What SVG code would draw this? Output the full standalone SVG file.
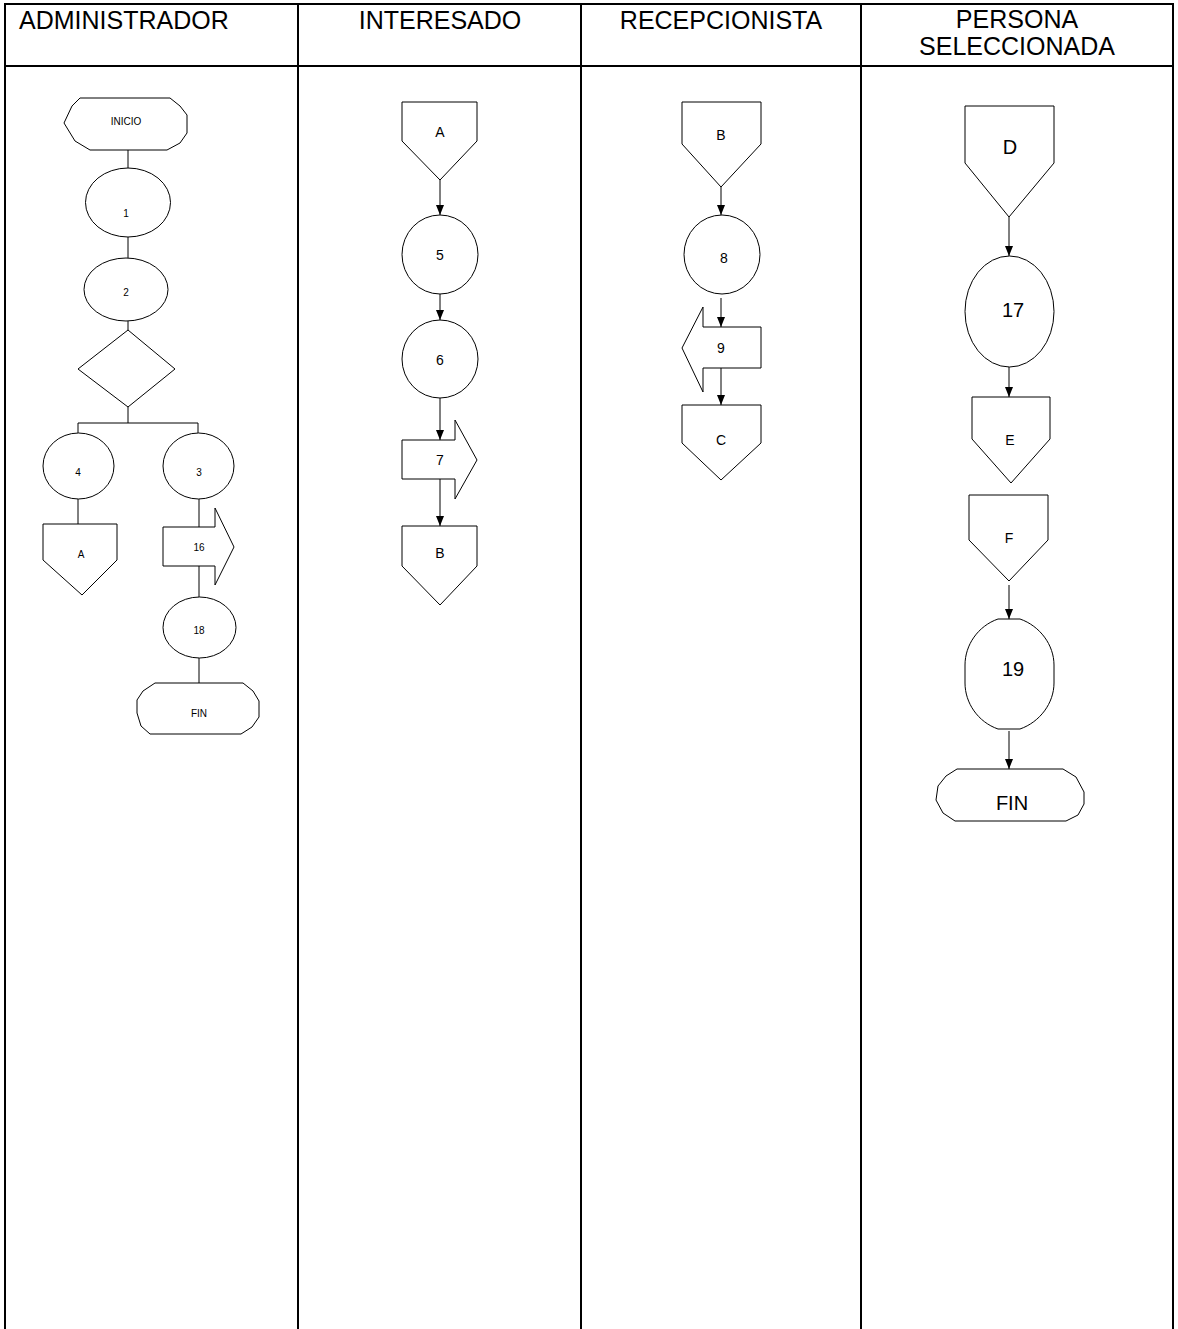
<svg xmlns="http://www.w3.org/2000/svg" width="1178" height="1329" viewBox="0 0 1178 1329">
<style>
.tbl{stroke:#000;stroke-width:2;fill:none}
.sh{fill:#fff;stroke:#000;stroke-width:1}
.ln{stroke:#000;stroke-width:1;fill:none}
.hd{font-family:"Liberation Sans",Arial,sans-serif;font-size:25px;fill:#000}
.t10{font-family:"Liberation Sans",Arial,sans-serif;font-size:10px;fill:#000;text-anchor:middle}
.t14{font-family:"Liberation Sans",Arial,sans-serif;font-size:14px;fill:#000;text-anchor:middle}
.t20{font-family:"Liberation Sans",Arial,sans-serif;font-size:20px;fill:#000;text-anchor:middle}
</style>
<defs>
<marker id="ah" markerWidth="10" markerHeight="8" refX="10" refY="4" orient="auto" markerUnits="userSpaceOnUse">
<path d="M0,0 L10,4 L0,8 Z" fill="#000"/>
</marker>
</defs>
<rect width="1178" height="1329" fill="#fff"/>
<g id="table">
<line class="tbl" x1="4" y1="4" x2="1174" y2="4"/>
<line class="tbl" x1="5" y1="66" x2="1173" y2="66"/>
<line class="tbl" x1="5" y1="4" x2="5" y2="1329"/>
<line class="tbl" x1="298" y1="4" x2="298" y2="1329"/>
<line class="tbl" x1="581" y1="4" x2="581" y2="1329"/>
<line class="tbl" x1="861" y1="4" x2="861" y2="1329"/>
<line class="tbl" x1="1173" y1="4" x2="1173" y2="1329"/>
<text class="hd" x="19" y="29">ADMINISTRADOR</text>
<text class="hd" x="440" y="29" text-anchor="middle">INTERESADO</text>
<text class="hd" x="721" y="29" text-anchor="middle">RECEPCIONISTA</text>
<text class="hd" x="1017" y="28" text-anchor="middle">PERSONA</text>
<text class="hd" x="1017" y="55" text-anchor="middle">SELECCIONADA</text>
</g>
<g id="connectors">
<line class="ln" x1="128" y1="150" x2="128" y2="168"/>
<line class="ln" x1="128" y1="237" x2="128" y2="258"/>
<line class="ln" x1="128" y1="321" x2="128" y2="330"/>
<line class="ln" x1="128" y1="407" x2="128" y2="423"/>
<polyline class="ln" points="78,433 78,423 198,423 198,433"/>
<line class="ln" x1="78" y1="499" x2="78" y2="524"/>
<line class="ln" x1="199" y1="499" x2="199" y2="597"/>
<line class="ln" x1="199" y1="658" x2="199" y2="683"/>
<line class="ln" x1="440" y1="180" x2="440" y2="215" marker-end="url(#ah)"/>
<line class="ln" x1="440" y1="294" x2="440" y2="320" marker-end="url(#ah)"/>
<line class="ln" x1="440" y1="398" x2="440" y2="440" marker-end="url(#ah)"/>
<line class="ln" x1="440" y1="479" x2="440" y2="526" marker-end="url(#ah)"/>
<line class="ln" x1="721" y1="187" x2="721" y2="215" marker-end="url(#ah)"/>
<line class="ln" x1="721" y1="298" x2="721" y2="327" marker-end="url(#ah)"/>
<line class="ln" x1="721" y1="368" x2="721" y2="405" marker-end="url(#ah)"/>
<line class="ln" x1="1009" y1="217" x2="1009" y2="256" marker-end="url(#ah)"/>
<line class="ln" x1="1009" y1="363" x2="1009" y2="397" marker-end="url(#ah)"/>
<line class="ln" x1="1009" y1="585" x2="1009" y2="619" marker-end="url(#ah)"/>
<line class="ln" x1="1009" y1="731" x2="1009" y2="769" marker-end="url(#ah)"/>
</g>
<g id="n-inicio">
<polygon class="sh" points="80,98 170,98 180,106 187,115 187,133 180,143 167,150 90,150 75,141 64,123 72,106"/>
<text class="t10" x="126" y="124.5">INICIO</text>
</g>
<g id="n-1">
<ellipse class="sh" cx="128" cy="202.5" rx="42.5" ry="34.5"/>
<text class="t10" x="126" y="216.5">1</text>
</g>
<g id="n-2">
<ellipse class="sh" cx="126" cy="289.5" rx="42" ry="31.5"/>
<text class="t10" x="126" y="295.5">2</text>
</g>
<g id="n-decision">
<polygon class="sh" points="128,330 175,369 128,407 78,369"/>
</g>
<g id="n-4">
<ellipse class="sh" cx="78.5" cy="466" rx="35.5" ry="33"/>
<text class="t10" x="78" y="475.5">4</text>
</g>
<g id="n-3">
<ellipse class="sh" cx="198.5" cy="466" rx="35.5" ry="33"/>
<text class="t10" x="199" y="475.5">3</text>
</g>
<g id="n-A1">
<polygon class="sh" points="43,524 117,524 117,560 82,595 43,560"/>
<text class="t10" x="81" y="557.5">A</text>
</g>
<g id="n-16">
<polygon class="sh" points="163,527 215,527 215,508 234,547 215,585 215,566 163,566"/>
<text class="t10" x="199" y="550.5">16</text>
</g>
<g id="n-18">
<ellipse class="sh" cx="199.5" cy="627.5" rx="36.5" ry="30.5"/>
<text class="t10" x="199" y="633.5">18</text>
</g>
<g id="n-fin1">
<polygon class="sh" points="155,683 243,683 253,691 259,701 259,717 252,727 241,734 150,734 141,726 137,713 137,700 143,691"/>
<text class="t10" x="199" y="716.5">FIN</text>
</g>
<g id="n-A2">
<polygon class="sh" points="402,102 477,102 477,141 440,180 402,141"/>
<text class="t14" x="440" y="137">A</text>
</g>
<g id="n-5">
<ellipse class="sh" cx="440" cy="254.5" rx="38" ry="39.5"/>
<text class="t14" x="440" y="260">5</text>
</g>
<g id="n-6">
<ellipse class="sh" cx="440" cy="359" rx="38" ry="39"/>
<text class="t14" x="440" y="365">6</text>
</g>
<g id="n-7">
<polygon class="sh" points="402,440 455,440 455,420 477,460 455,499 455,479 402,479"/>
<text class="t14" x="440" y="465">7</text>
</g>
<g id="n-B1">
<polygon class="sh" points="402,526 477,526 477,566 440,605 402,566"/>
<text class="t14" x="440" y="558">B</text>
</g>
<g id="n-B2">
<polygon class="sh" points="682,102 761,102 761,144 721,187 682,144"/>
<text class="t14" x="721" y="140">B</text>
</g>
<g id="n-8">
<ellipse class="sh" cx="722" cy="254.5" rx="38" ry="39.5"/>
<text class="t14" x="724" y="263">8</text>
</g>
<g id="n-9">
<polygon class="sh" points="761,327 703,327 703,307 682,348 703,392 703,368 761,368"/>
<text class="t14" x="721" y="353">9</text>
</g>
<g id="n-C">
<polygon class="sh" points="682,405 761,405 761,443 721,480 682,443"/>
<text class="t14" x="721" y="445">C</text>
</g>
<g id="n-D">
<polygon class="sh" points="965,106 1054,106 1054,163 1009,217 965,163"/>
<text class="t20" x="1010" y="154">D</text>
</g>
<g id="n-17">
<ellipse class="sh" cx="1009.5" cy="311.5" rx="44.5" ry="55.5"/>
<text class="t20" x="1013" y="317">17</text>
</g>
<g id="n-E">
<polygon class="sh" points="972,397 1050,397 1050,439 1011,483 972,439"/>
<text class="t14" x="1010" y="445">E</text>
</g>
<g id="n-F">
<polygon class="sh" points="969,495 1048,495 1048,540 1009,581 969,540"/>
<text class="t14" x="1009" y="543">F</text>
</g>
<g id="n-19">
<path class="sh" d="M998,619 H1020 C1040,626 1054,645 1054,665 V683 C1054,703 1040,722 1020,729 H998 C978,722 965,703 965,683 V665 C965,645 978,626 998,619 Z"/>
<text class="t20" x="1013" y="676">19</text>
</g>
<g id="n-fin2">
<polygon class="sh" points="957,769 1063,769 1076,777 1084,792 1084,804 1078,815 1066,821 955,821 943,813 936,800 938,786 946,776"/>
<text class="t20" x="1012" y="810">FIN</text>
</g>
</svg>
